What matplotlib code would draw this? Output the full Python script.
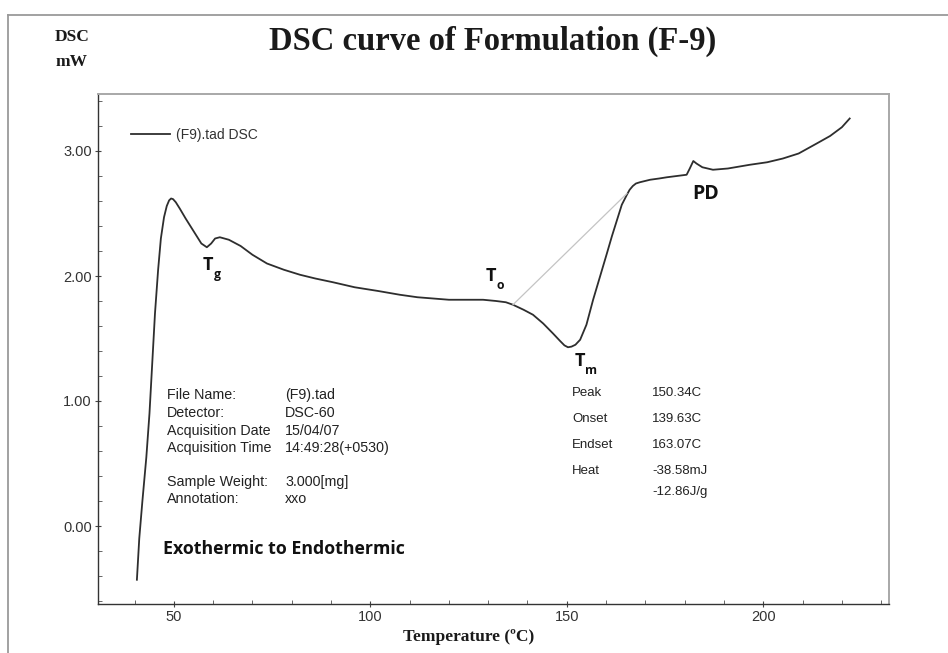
import matplotlib
matplotlib.use("Agg")
import matplotlib.pyplot as plt
from matplotlib.lines import Line2D

# ---- data ----
temperature = [40.6, 41.2, 42.0, 43.0, 43.8, 44.5, 45.2, 46.0, 46.7, 47.5, 48.2, 48.8,
               49.3, 49.8, 50.5, 51.5, 53.0, 55.0, 57.0, 58.4, 59.5, 60.5, 61.7, 64.0, 67.0,
               70.0, 73.7, 78.0, 82.1, 86.0, 90.5, 96.0, 102.0, 107.5, 112.0, 116.0,
               120.0, 124.0, 128.7, 132.0, 134.5, 136.3, 139.0, 141.4, 144.0, 146.5,
               148.3, 149.4, 150.3, 151.2, 152.2, 153.4, 155.0, 156.7, 158.5, 160.2, 161.5,
               162.8, 164.0, 165.3, 166.0, 166.8, 167.6, 168.6, 171.2, 173.5, 175.5, 178.0,
               180.5, 181.3, 182.2, 183.0, 184.5, 187.2, 191.0, 196.6, 201.0, 205.0, 209.0,
               213.6, 217.0, 220.0, 222.0]
dsc_mw = [-0.43, -0.10, 0.20, 0.55, 0.90, 1.30, 1.70, 2.05, 2.30, 2.47, 2.56, 2.605,
          2.62, 2.615, 2.59, 2.54, 2.46, 2.36, 2.26, 2.23, 2.26, 2.30, 2.31, 2.29, 2.24,
          2.17, 2.10, 2.05, 2.01, 1.98, 1.95, 1.91, 1.88, 1.85, 1.83, 1.82,
          1.81, 1.81, 1.81, 1.80, 1.79, 1.77, 1.73, 1.69, 1.62, 1.54,
          1.48, 1.445, 1.43, 1.435, 1.45, 1.49, 1.61, 1.81, 2.00, 2.18, 2.32,
          2.45, 2.57, 2.65, 2.69, 2.72, 2.74, 2.75, 2.77, 2.78, 2.79, 2.80,
          2.81, 2.86, 2.92, 2.90, 2.87, 2.85, 2.86, 2.89, 2.91, 2.94, 2.98,
          3.06, 3.12, 3.19, 3.26]
baseline_t = [136.3, 165.3]
baseline_v = [1.77, 2.66]

x_ticks = [50, 100, 150, 200]
y_ticks = [0.0, 1.0, 2.0, 3.0]
y_tick_labels = ["0.00", "1.00", "2.00", "3.00"]

info_keys = ["File Name:", "Detector:", "Acquisition Date", "Acquisition Time",
             "Sample Weight:", "Annotation:"]
info_vals = ["(F9).tad", "DSC-60", "15/04/07", "14:49:28(+0530)", "3.000[mg]", "xxo"]
peak_keys = ["Peak", "Onset", "Endset", "Heat", ""]
peak_vals = ["150.34C", "139.63C", "163.07C", "-38.58mJ", "-12.86J/g"]

W, H = 948, 653
fig = plt.figure(figsize=(W / 100, H / 100), dpi=100)
fig.patch.set_facecolor("white")

def fx(px):
    return px / W

def fy(py):
    return 1 - py / H

# outer frame lines
fig.add_artist(Line2D([fx(8), fx(948)], [fy(15), fy(15)], color="#9a9a9a", lw=1.3))
fig.add_artist(Line2D([fx(8), fx(8)], [fy(15), fy(653)], color="#9a9a9a", lw=1.3))

ax = fig.add_axes([fx(98), fy(604), fx(889) - fx(98), fy(94) - fy(604)])
ax.plot(temperature, dsc_mw, color="#2e2e2e", lw=1.3, label="(F9).tad DSC")
ax.plot(baseline_t, baseline_v, color="#c4c4c4", lw=0.9)

ax.set_xlim(30.7, 232)
ax.set_ylim(-0.624, 3.456)
ax.set_xticks(x_ticks)
ax.set_xticks(range(40, 232, 10), minor=True)
ax.set_yticks(y_ticks)
ax.set_yticklabels(y_tick_labels)
ax.set_yticks([v / 10 for v in range(-6, 35, 2)], minor=True)
ax.tick_params(axis="both", which="major", direction="inout", length=5, width=0.8,
               color="#444444", labelsize=10.5, labelcolor="#333333", pad=2)
ax.tick_params(axis="both", which="minor", direction="in", length=3, width=0.7,
               color="#666666")
for lab in ax.get_xticklabels() + ax.get_yticklabels():
    lab.set_fontfamily("Liberation Sans")
for s in ["left", "bottom"]:
    ax.spines[s].set_color("#333333")
    ax.spines[s].set_linewidth(1.0)
for s in ["top", "right"]:
    ax.spines[s].set_color("#a8a8a8")
    ax.spines[s].set_linewidth(1.4)

leg = ax.legend(loc="upper left", bbox_to_anchor=(fx(131) - fx(98), 1 - (122 - 94) / 510),
                frameon=False, handlelength=2.8, handletextpad=0.45, borderaxespad=0,
                prop={"family": "Liberation Sans", "size": 10})
for t in leg.get_texts():
    t.set_color("#333333")

# titles
fig.text(fx(493), fy(41), "DSC curve of Formulation (F-9)", ha="center", va="center",
         family="Liberation Serif", weight="bold", fontsize=23.5, color="#1a1a1a")
fig.text(fx(72), fy(37), "DSC", ha="center", va="center", family="Liberation Serif",
         weight="bold", fontsize=12.5, color="#1a1a1a")
fig.text(fx(72), fy(62), "mW", ha="center", va="center", family="Liberation Serif",
         weight="bold", fontsize=12.5, color="#1a1a1a")
fig.text(fx(469), fy(637), "Temperature (\u00baC)", ha="center", va="center",
         family="Liberation Serif", weight="bold", fontsize=12.5, color="#1a1a1a")

# T labels
def tlabel(x, y, main, sub, size=13):
    t = fig.text(fx(x), fy(y), main, ha="left", va="baseline", family="Open Sans",
                 weight="bold", fontsize=size, color="#111111")
    fig.canvas.draw()
    bb = t.get_window_extent()
    if sub:
        fig.text(bb.x1 / W, (bb.y0 - 4) / H, sub, ha="left", va="baseline",
                 family="Open Sans", weight="bold", fontsize=size * 0.68,
                 color="#111111")

tlabel(203, 270, "T", "g")
tlabel(486, 281, "T", "o")
tlabel(575, 366, "T", "m")
tlabel(692, 199, "PD", "", size=14)

fig.text(fx(163), fy(549), "Exothermic to Endothermic", ha="left", va="center",
         family="Open Sans", weight="bold", fontsize=12.8, color="#111111")

# info block
info_y = [395, 413, 431, 448, 482, 499]
for k, v, y in zip(info_keys, info_vals, info_y):
    fig.text(fx(167), fy(y), k, ha="left", va="center", family="Liberation Sans",
             fontsize=10.3, color="#222222")
    fig.text(fx(285), fy(y), v, ha="left", va="center", family="Liberation Sans",
             fontsize=10.3, color="#222222")

peak_y = [393, 419, 445, 471, 492]
for k, v, y in zip(peak_keys, peak_vals, peak_y):
    fig.text(fx(572), fy(y), k, ha="left", va="center", family="Liberation Sans",
             fontsize=9.5, color="#222222")
    fig.text(fx(652), fy(y), v, ha="left", va="center", family="Liberation Sans",
             fontsize=9.5, color="#222222")

fig.savefig("out.png", dpi=100)
